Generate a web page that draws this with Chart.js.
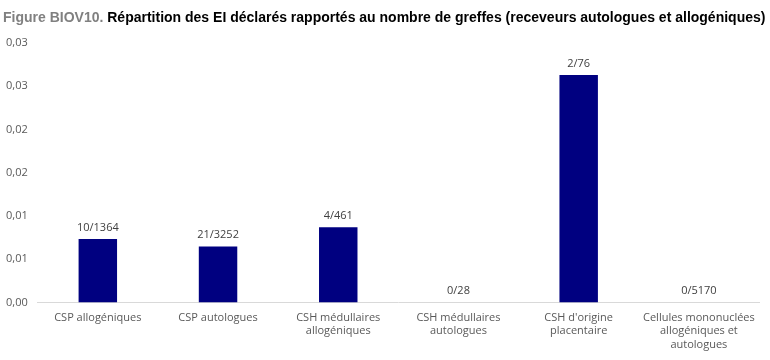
<!DOCTYPE html>
<html lang="fr">
<head>
<meta charset="UTF-8">
<title>Figure BIOV10</title>
<script src="https://cdn.jsdelivr.net/npm/chart.js"></script>
<style>
    body { margin: 0; background: #fff; }
    #wrap { position: relative; width: 770px; height: 360px; }
    #titre {
        position: absolute; left: 3px; top: 9px;
        font: bold 14px "Liberation Sans", Arial, sans-serif;
        color: #000; white-space: nowrap;
    }
    #titre span { color: #808080; }
</style>
</head>
<body>
<div id="wrap">
    <div id="titre"><span>Figure BIOV10.</span> Répartition des EI déclarés rapportés au nombre de greffes (receveurs autologues et allogéniques)</div>
    <canvas id="graphe" width="770" height="360"></canvas>
</div>
<script>
// catégories de greffons
const categories = [
    'CSP allogéniques',
    'CSP autologues',
    ['CSH médullaires', 'allogéniques'],
    ['CSH médullaires', 'autologues'],
    ["CSH d'origine", 'placentaire'],
    ['Cellules mononuclées', 'allogéniques et', 'autologues']
];
// EI déclarés / nombre de greffes
const etiquettes = ['10/1364', '21/3252', '4/461', '0/28', '2/76', '0/5170'];
const valeurs = [0.00733, 0.00646, 0.00868, 0, 0.0263, 0];

const police = '"Open Sans", "Liberation Sans", sans-serif';

// étiquettes au-dessus des barres
const etiquettesBarres = {
    id: 'etiquettesBarres',
    afterDatasetsDraw(chart) {
        const ctx = chart.ctx;
        const meta = chart.getDatasetMeta(0);
        ctx.save();
        ctx.font = '11px ' + police;
        ctx.fillStyle = '#404040';
        ctx.textAlign = 'center';
        ctx.textBaseline = 'bottom';
        meta.data.forEach((bar, i) => {
            ctx.fillText(etiquettes[i], bar.x, bar.y - 6);
        });
        ctx.restore();
    }
};

new Chart(document.getElementById('graphe'), {
    type: 'bar',
    data: {
        labels: categories,
        datasets: [{
            data: valeurs,
            backgroundColor: '#000080',
            barPercentage: 0.32,
            categoryPercentage: 1
        }]
    },
    options: {
        responsive: false,
        animation: false,
        layout: { padding: { top: 43, right: 11, left: 4, bottom: 8 } },
        plugins: {
            legend: { display: false },
            tooltip: { enabled: false }
        },
        scales: {
            x: {
                grid: { display: false },
                border: { color: '#d9d9d9' },
                ticks: {
                    color: '#595959',
                    font: { family: police, size: 11 },
                    maxRotation: 0,
                    autoSkip: false,
                    padding: 1
                }
            },
            y: {
                min: 0,
                max: 0.03,
                grid: { display: false },
                border: { display: false },
                ticks: {
                    stepSize: 0.005,
                    color: '#595959',
                    font: { family: police, size: 11 },
                    padding: 2,
                    callback: v => (Math.round(v * 100 + 1e-6) / 100).toFixed(2).replace('.', ',')
                }
            }
        }
    },
    plugins: [etiquettesBarres]
});
</script>
</body>
</html>
